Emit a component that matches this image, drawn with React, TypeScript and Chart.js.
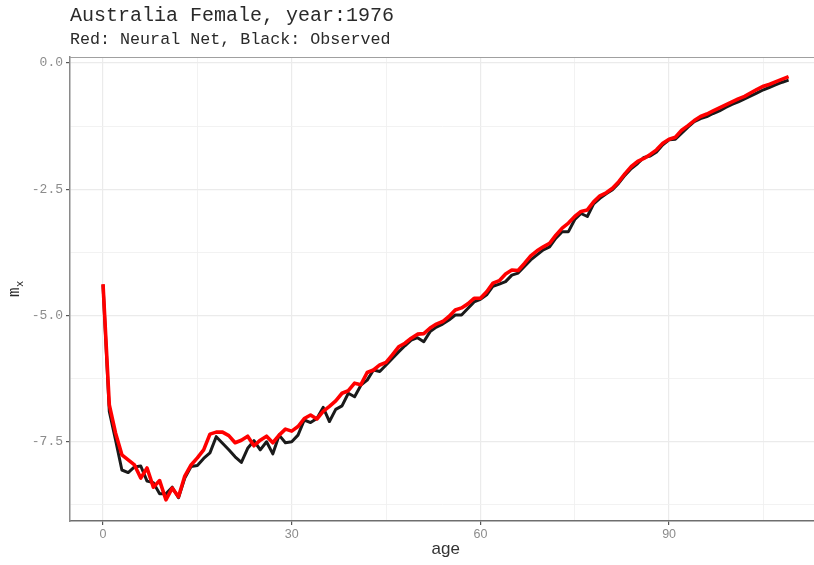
import React, { useEffect, useRef } from "react";
import { Chart, registerables } from "chart.js";

Chart.register(...registerables);

const TITLE = "Australia Female, year:1976";
const SUBTITLE = "Red: Neural Net, Black: Observed";
const X_TITLE = "age";

const ages: number[] = Array.from({ length: 110 }, (_, i) => i);

const observed: number[] = [
  -4.40, -6.90, -7.47, -8.06, -8.11, -8.00, -7.98, -8.28, -8.31, -8.53,
  -8.53, -8.40, -8.61, -8.22, -7.99, -7.97, -7.83, -7.72, -7.40, -7.53,
  -7.66, -7.80, -7.91, -7.63, -7.48, -7.66, -7.50, -7.74, -7.37, -7.52,
  -7.50, -7.37, -7.07, -7.12, -7.04, -6.82, -7.10, -6.86, -6.79, -6.54,
  -6.61, -6.38, -6.28, -6.08, -6.11, -5.98, -5.85, -5.72, -5.60, -5.49,
  -5.44, -5.52, -5.32, -5.23, -5.17, -5.09, -4.99, -4.99, -4.86, -4.73,
  -4.68, -4.59, -4.42, -4.38, -4.33, -4.20, -4.16, -4.03, -3.90, -3.80,
  -3.70, -3.64, -3.47, -3.34, -3.34, -3.10, -2.98, -3.04, -2.79, -2.68,
  -2.59, -2.51, -2.38, -2.22, -2.09, -1.99, -1.87, -1.84, -1.76, -1.62,
  -1.52, -1.51, -1.39, -1.27, -1.16, -1.10, -1.06, -1.00, -0.95, -0.88,
  -0.82, -0.77, -0.71, -0.65, -0.59, -0.53, -0.48, -0.43, -0.38, -0.34,
];

const neuralNet: number[] = [
  -4.38, -6.77, -7.33, -7.76, -7.86, -7.96, -8.22, -8.02, -8.40, -8.27,
  -8.65, -8.42, -8.59, -8.18, -7.96, -7.82, -7.66, -7.35, -7.31, -7.31,
  -7.38, -7.52, -7.47, -7.39, -7.58, -7.47, -7.39, -7.52, -7.37, -7.25,
  -7.29, -7.20, -7.04, -6.97, -7.05, -6.90, -6.80, -6.69, -6.54, -6.49,
  -6.34, -6.37, -6.13, -6.08, -5.98, -5.93, -5.78, -5.62, -5.55, -5.45,
  -5.37, -5.36, -5.25, -5.17, -5.12, -5.02, -4.89, -4.85, -4.77, -4.66,
  -4.66, -4.53, -4.36, -4.31, -4.18, -4.10, -4.11, -3.97, -3.82, -3.72,
  -3.64, -3.57, -3.41, -3.27, -3.17, -3.04, -2.94, -2.91, -2.75, -2.63,
  -2.57, -2.48, -2.35, -2.19, -2.05, -1.95, -1.89, -1.81, -1.72, -1.59,
  -1.51, -1.47, -1.33, -1.24, -1.14, -1.06, -1.01, -0.95, -0.89, -0.83,
  -0.77, -0.71, -0.66, -0.59, -0.52, -0.46, -0.42, -0.37, -0.32, -0.27,
];

const xMajorTicks: number[] = [0, 30, 60, 90];
const xMinorTicks: number[] = [15, 45, 75, 105];
const yMajorTicks: number[] = [0, -2.5, -5, -7.5];
const yMinorTicks: number[] = [-1.25, -3.75, -6.25, -8.75];

const isMajor = (list: number[], v: number) =>
  list.some((m) => Math.abs(m - v) < 1e-6);

const decorPlugin = {
  id: "decor",
  afterDraw(chart: any) {
    const { ctx, chartArea } = chart;
    ctx.save();
    // panel top border
    ctx.strokeStyle = "#a0a0a0";
    ctx.lineWidth = 1;
    ctx.beginPath();
    ctx.moveTo(chartArea.left, chartArea.top + 0.5);
    ctx.lineTo(chartArea.right, chartArea.top + 0.5);
    ctx.stroke();

    // titles
    ctx.fillStyle = "#2a2a2a";
    ctx.textAlign = "left";
    ctx.textBaseline = "alphabetic";
    ctx.font = "20px 'Liberation Mono', 'Courier New', monospace";
    ctx.fillText(TITLE, 70, 21);
    ctx.font = "16.7px 'Liberation Mono', 'Courier New', monospace";
    ctx.fillText(SUBTITLE, 70, 44);

    // x axis title (centred on full panel incl. cropped part)
    ctx.fillStyle = "#333333";
    ctx.textAlign = "center";
    ctx.font = "17px 'Liberation Sans', Arial, sans-serif";
    const xs = chart.scales.x;
    const xc = xs.getPixelForValue(54.5);
    ctx.fillText(X_TITLE, xc, 554);

    // y axis title m_x (rotated)
    ctx.fillStyle = "#2a2a2a";
    ctx.translate(19, 297);
    ctx.rotate(-Math.PI / 2);
    ctx.textAlign = "left";
    ctx.font = "16px 'Liberation Mono', 'Courier New', monospace";
    ctx.fillText("m", 0, 0);
    const mw = ctx.measureText("m").width;
    ctx.font = "10.5px 'Liberation Mono', 'Courier New', monospace";
    ctx.fillText("x", mw + 0.5, 3.5);
    ctx.restore();
  },
};

export default function App() {
  const canvasRef = useRef<HTMLCanvasElement | null>(null);

  useEffect(() => {
    document.body.style.margin = "0";
    const canvas = canvasRef.current;
    if (!canvas) return;

    const obsData = ages.map((a, i) => ({ x: a, y: observed[i] }));
    const nnData = ages.map((a, i) => ({ x: a, y: neuralNet[i] }));

    const chart = new Chart(canvas, {
      type: "line",
      data: {
        datasets: [
          {
            label: "Observed",
            data: obsData,
            borderColor: "#1a1a1a",
            borderWidth: 3,
            pointRadius: 0,
            tension: 0,
            borderJoinStyle: "round",
            borderCapStyle: "butt",
            order: 2,
          },
          {
            label: "Neural Net",
            data: nnData,
            borderColor: "#ff0000",
            borderWidth: 3.6,
            pointRadius: 0,
            tension: 0,
            borderJoinStyle: "round",
            borderCapStyle: "butt",
            order: 1,
          },
        ],
      },
      options: {
        responsive: false,
        animation: false,
        devicePixelRatio: 1,
        layout: { padding: { top: 57, left: 0, right: 0, bottom: 0 } },
        plugins: {
          legend: { display: false },
          tooltip: { enabled: false },
          title: { display: false },
        },
        scales: {
          x: {
            type: "linear",
            min: -5.25,
            max: 113.04,
            afterFit: (scale: any) => {
              scale.height = 44;
            },
            afterBuildTicks: (scale: any) => {
              scale.ticks = [...xMajorTicks, ...xMinorTicks]
                .sort((a, b) => a - b)
                .map((v) => ({ value: v }));
            },
            ticks: {
              autoSkip: false,
              maxRotation: 0,
              padding: 2.5,
              color: "#8c8c8c",
              font: { family: "'Liberation Sans Narrow', 'Liberation Sans', Arial, sans-serif", size: 12.5 },
              callback: (v: any) => (isMajor(xMajorTicks, Number(v)) ? String(v) : ""),
            },
            grid: {
              drawTicks: true,
              tickLength: 4,
              tickWidth: 1.2,
              tickColor: (ctx: any) =>
                ctx.tick && isMajor(xMajorTicks, ctx.tick.value) ? "#555555" : "rgba(0,0,0,0)",
              color: (ctx: any) =>
                ctx.tick && isMajor(xMajorTicks, ctx.tick.value) ? "#ebebeb" : "#f1f1f1",
              lineWidth: (ctx: any) =>
                ctx.tick && isMajor(xMajorTicks, ctx.tick.value) ? 1.2 : 0.9,
            },
            border: { display: true, color: "#6e6e6e", width: 1.5 },
          },
          y: {
            type: "linear",
            min: -9.07,
            max: 0.119,
            afterFit: (scale: any) => {
              scale.width = 70;
            },
            afterBuildTicks: (scale: any) => {
              scale.ticks = [...yMajorTicks, ...yMinorTicks]
                .sort((a, b) => a - b)
                .map((v) => ({ value: v }));
            },
            ticks: {
              autoSkip: false,
              padding: 3,
              color: "#8c8c8c",
              font: { family: "'Liberation Mono', 'Courier New', monospace", size: 13 },
              callback: (v: any) => {
                const n = Number(v);
                if (!isMajor(yMajorTicks, n)) return "";
                return n === 0 ? "0.0" : n.toFixed(1);
              },
            },
            grid: {
              drawTicks: true,
              tickLength: 4,
              tickWidth: 1.2,
              tickColor: (ctx: any) =>
                ctx.tick && isMajor(yMajorTicks, ctx.tick.value) ? "#555555" : "rgba(0,0,0,0)",
              color: (ctx: any) =>
                ctx.tick && isMajor(yMajorTicks, ctx.tick.value) ? "#ebebeb" : "#f1f1f1",
              lineWidth: (ctx: any) =>
                ctx.tick && isMajor(yMajorTicks, ctx.tick.value) ? 1.2 : 0.9,
            },
            border: { display: true, color: "#8a8a8a", width: 1.5 },
          },
        },
      },
      plugins: [decorPlugin],
    });

    return () => {
      chart.destroy();
    };
  }, []);

  return (
    <div style={{ width: 814, height: 565, background: "#ffffff" }}>
      <canvas
        ref={canvasRef}
        width={814}
        height={565}
        style={{ display: "block", width: 814, height: 565 }}
      />
    </div>
  );
}
